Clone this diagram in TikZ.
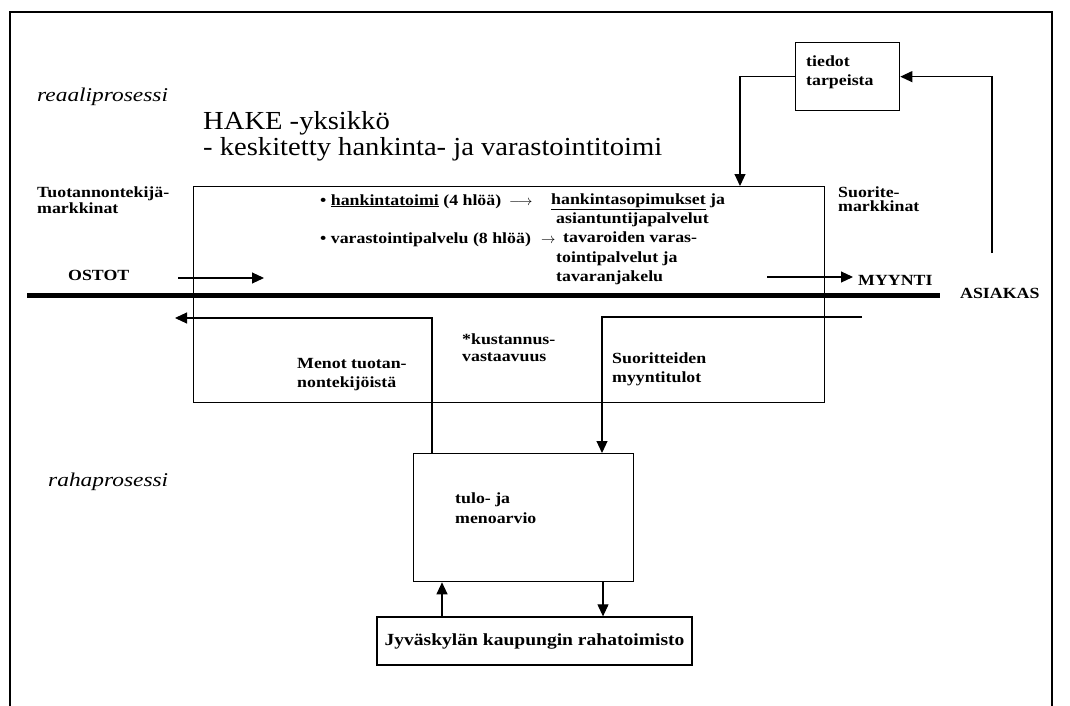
\documentclass[tikz,border=0pt]{standalone}
\usepackage{fontspec}
\setmainfont{Liberation Serif}
\newfontfamily\lfs[FakeStretch=1.15]{Liberation Serif}
\newfontfamily\lft[FakeStretch=1.1]{Liberation Serif}
\newfontfamily\lfi[FakeStretch=1.2]{Liberation Serif}
\usetikzlibrary{arrows.meta}
\tikzset{
  lbl/.style={font=\lfs\bfseries\fontsize{15.5}{18}\selectfont, inner sep=0pt, anchor=base west},
  lbl2/.style={font=\lfs\bfseries\fontsize{15.5}{13.5}\selectfont, inner sep=0pt, anchor=north west, align=left},
  ttl/.style={font=\lft\fontsize{26}{26}\selectfont, inner sep=0pt, anchor=base west},
  itl/.style={font=\lfi\itshape\fontsize{19.5}{20}\selectfont, inner sep=0pt, anchor=base west},
  boxs/.style={draw, line width=1.3pt, inner sep=0pt, anchor=north west},
  arr/.style={line width=1.1pt, -{Triangle[length=12pt,width=11pt]}},
}
\begin{document}
\begin{tikzpicture}[x=1pt,y=-1pt]
\useasboundingbox (0,0) rectangle (1070,706);
% outer frame
\coordinate (f1) at (10,706);
\coordinate (f2) at (10,12);
\coordinate (f3) at (1052,12);
\coordinate (f4) at (1052,706);
\draw[line width=1.2pt] (f1) -- (f2) -- (f3) -- (f4);

% boxes
\node[boxs, minimum width=631pt, minimum height=216pt] (hake) at (193,186) {};
\node[boxs, minimum width=104pt, minimum height=68pt] (tiedot) at (795,42) {};
\node[boxs, minimum width=220pt, minimum height=128pt] (tulo) at (413,453) {};
\node[draw, line width=1.3pt, inner sep=0pt, minimum width=315pt, minimum height=48pt,
      font=\lfs\bfseries\fontsize{17}{18}\selectfont] (raha) at (534.5,641) {Jyväskylän kaupungin rahatoimisto};

% thick bar
\coordinate (b1) at (27,295);
\coordinate (b2) at (940,295);
\draw[line width=5pt] (b1) -- (b2);

% texts
\node[itl] (reaali) at (37,102) {reaaliprosessi};
\node[itl] (raham) at (48,486) {rahaprosessi};
\node[ttl] (t1) at (203,130) {HAKE -yksikkö};
\node[ttl] (t2) at (203,155) {- keskitetty hankinta- ja varastointitoimi};

\node[lbl2] (tuot) at (37,187) {Tuotannontekijä-\\markkinat};
\node[lbl2] (suor) at (838,187) {Suorite-\\markkinat};

\node[lbl] (ostot) at (68,280) {OSTOT};
\node[lbl] (myynti) at (858,285) {MYYNTI};
\node[lbl] (asiakas) at (960,298) {ASIAKAS};

\node[lbl] (bul1) at (320,205) {\textbullet\ \underline{hankintatoimi} (4 hlöä)};
\node[lbl] (arw1) at (509,205) {$\longrightarrow$};
\node[lbl] (r11) at (551,204) {\underline{hankintasopimukset} ja};
\node[lbl] (r12) at (556,223) {asiantuntijapalvelut};
\node[lbl] (bul2) at (320,243) {\textbullet\ varastointipalvelu (8 hlöä)};
\node[lbl] (arw2) at (541,243) {$\rightarrow$};
\node[lbl] (r21) at (563,242) {tavaroiden varas-};
\node[lbl] (r22) at (556,262) {tointipalvelut ja};
\node[lbl] (r23) at (556,281) {tavaranjakelu};

\node[lbl] (men1) at (297,368) {Menot tuotan-};
\node[lbl] (men2) at (297,387) {nontekijöistä};
\node[lbl] (kus1) at (462,344) {*kustannus-};
\node[lbl] (kus2) at (462,361) {vastaavuus};
\node[lbl] (myt1) at (612,363) {Suoritteiden};
\node[lbl] (myt2) at (612,382) {myyntitulot};

\node[lbl] (tie1) at (806,67) {tiedot};
\node[lbl] (tie2) at (806,86) {tarpeista};

\node[lbl] (tm1) at (455,503) {tulo- ja};
\node[lbl] (tm2) at (455,523) {menoarvio};

% connectors
\coordinate (o1) at (178,278);
\coordinate (o2) at (264,278);
\draw[arr] (o1) -- (o2);
\coordinate (m1) at (767,277);
\coordinate (m2) at (853,277);
\draw[arr] (m1) -- (m2);

\coordinate (as1) at (992,253);
\draw[arr] (as1) |- (tiedot.east);
\coordinate (hk) at (740,186);
\draw[arr] (tiedot.west) -| (hk);

\coordinate (mx) at (432,318);
\coordinate (ml) at (175,318);
\draw[arr] (tulo.north -| mx) -- (mx) -- (ml);

\coordinate (sr) at (862,317);
\coordinate (sx) at (602,317);
\draw[arr] (sr) -- (sx) -- (tulo.north -| sx);

\coordinate (ua) at (442,600);
\draw[arr] (raha.north -| ua) -- (tulo.south -| ua);
\coordinate (da) at (603,600);
\draw[arr] (tulo.south -| da) -- (raha.north -| da);
\end{tikzpicture}
\end{document}
